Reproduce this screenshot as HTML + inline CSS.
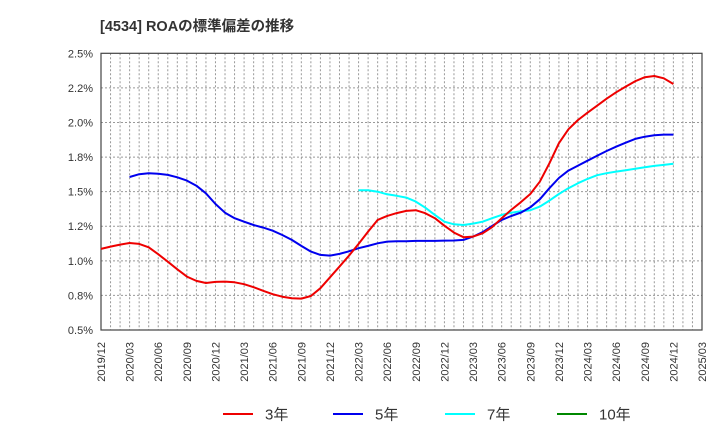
<!DOCTYPE html>
<html><head><meta charset="utf-8"><style>
body{margin:0;background:#fff;}
text{font-family:"Liberation Sans","Noto Sans CJK JP",sans-serif;}
</style></head><body>
<svg id="chart" width="720" height="440" xmlns="http://www.w3.org/2000/svg">
<text x="100" y="31" font-size="14.5" font-weight="bold" fill="#333">[4534]  ROAの標準偏差の推移</text>
<g id="grid"></g>
<g id="axes"></g>
<g id="series"></g>
<g id="legend"></g>
</svg>
<script>
const xTickLabels=["2019/12","2020/03","2020/06","2020/09","2020/12","2021/03","2021/06","2021/09","2021/12","2022/03","2022/06","2022/09","2022/12","2023/03","2023/06","2023/09","2023/12","2024/03","2024/06","2024/09","2024/12","2025/03"];
const yTicks=[0.5,0.75,1.0,1.25,1.5,1.75,2.0,2.25,2.5];
const yTickLabels=["0.5%","0.8%","1.0%","1.2%","1.5%","1.8%","2.0%","2.2%","2.5%"];
const s3Start=0;
const s3=[1.086,1.103,1.117,1.129,1.122,1.098,1.048,0.994,0.939,0.886,0.855,0.840,0.848,0.850,0.845,0.831,0.809,0.783,0.759,0.741,0.730,0.727,0.746,0.802,0.881,0.958,1.038,1.122,1.211,1.296,1.325,1.345,1.361,1.366,1.344,1.308,1.254,1.204,1.171,1.175,1.199,1.243,1.308,1.368,1.423,1.483,1.572,1.705,1.850,1.951,2.018,2.071,2.121,2.172,2.218,2.259,2.298,2.327,2.336,2.319,2.278];
const s5Start=3;
const s5=[1.606,1.626,1.633,1.630,1.621,1.604,1.580,1.543,1.488,1.411,1.348,1.308,1.283,1.259,1.240,1.218,1.187,1.151,1.108,1.067,1.043,1.038,1.050,1.069,1.091,1.108,1.127,1.139,1.141,1.142,1.144,1.144,1.144,1.146,1.147,1.151,1.175,1.207,1.252,1.296,1.324,1.348,1.387,1.445,1.525,1.599,1.652,1.688,1.724,1.760,1.794,1.825,1.854,1.881,1.897,1.907,1.912,1.912];
const s7Start=27;
const s7=[1.510,1.510,1.500,1.481,1.470,1.457,1.428,1.384,1.332,1.283,1.264,1.259,1.269,1.283,1.308,1.332,1.348,1.358,1.366,1.392,1.435,1.483,1.525,1.561,1.592,1.619,1.633,1.645,1.655,1.666,1.676,1.686,1.693,1.702];
const s10=[];
const L=101,R=702,T=53.3,B=330;
const nMonths=63;
const xs=m=>L+(R-L)*m/nMonths;
const ys=v=>B-(B-T)*(v-0.5)/2.0;
const NS="http://www.w3.org/2000/svg";
function mk(tag,attrs,parent){const e=document.createElementNS(NS,tag);for(const k in attrs)e.setAttribute(k,attrs[k]);parent.appendChild(e);return e;}
const grid=document.getElementById('grid'),axes=document.getElementById('axes'),ser=document.getElementById('series'),leg=document.getElementById('legend');
for(let m=1;m<nMonths;m++){const l=mk('line',{x1:xs(m),x2:xs(m),y1:T,y2:B,stroke:'#999','stroke-dasharray':'2,2','stroke-width':1},grid);

}
yTicks.forEach((v,i)=>{if(i>0&&i<yTicks.length-1){const l=mk('line',{x1:L,x2:R,y1:ys(v),y2:ys(v),stroke:'#999','stroke-dasharray':'2,2','stroke-width':1},grid);

}
const t=mk('text',{x:93,y:ys(v)+4,'font-size':11,'text-anchor':'end',fill:'#333'},axes);t.textContent=yTickLabels[i];

});
xTickLabels.forEach((s,i)=>{const x=xs(i*3);const t=mk('text',{transform:`translate(${x+4},342) rotate(-90)`,'font-size':11,'text-anchor':'end',fill:'#333'},axes);t.textContent=s;

});
const fr=mk('rect',{x:L,y:T,width:R-L,height:B-T,fill:'none',stroke:'#444','stroke-width':1.2},axes);


function line(data,start,color,name){if(!data.length)return;const d=data.map((v,i)=>(i?'L':'M')+xs(start+i).toFixed(1)+','+ys(v).toFixed(1)).join('');
const p=mk('path',{d:d,fill:'none',stroke:color,'stroke-width':2,'stroke-linejoin':'round'},ser);

}
line(s7,s7Start,'#00ffff','series-7y');
line(s5,s5Start,'#0000ee','series-5y');
line(s3,s3Start,'#ee0000','series-3y');
line(s10,0,'#008800','series-10y');
const items=[['3年','#ee0000',223],['5年','#0000ee',333],['7年','#00ffff',445],['10年','#008800',557]];
items.forEach(([lab,c,x])=>{const g=mk('g',{},leg);


mk('line',{x1:x,x2:x+30,y1:414,y2:414,stroke:c,'stroke-width':2},g);
const t=mk('text',{x:x+42,y:419.5,'font-size':15,fill:'#333'},g);t.textContent=lab;});
</script>
</body></html>
